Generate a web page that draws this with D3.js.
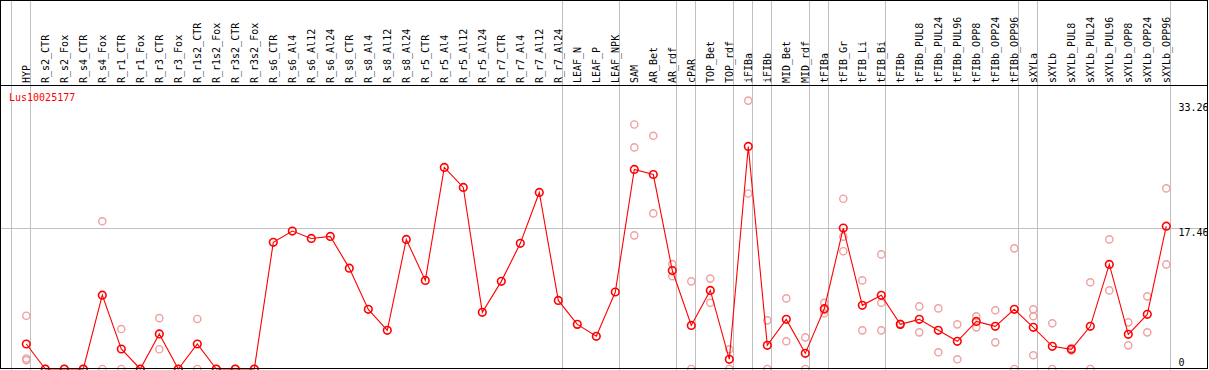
<!DOCTYPE html>
<html>
<head>
<meta charset="utf-8">
<script src="https://cdn.jsdelivr.net/npm/d3@7"></script>
<style>
  html, body { margin: 0; padding: 0; background: #fff; }
  svg { display: block; }
  text { font-family: "DejaVu Sans Mono", "Liberation Mono", monospace; font-size: 10px; }
</style>
</head>
<body>
<svg id="chart" width="1209" height="370"></svg>
<script>
const geneName = "Lus10025177";

const categories = [
  "HYP","R_s2_CTR","R_s2_Fox","R_s4_CTR","R_s4_Fox","R_r1_CTR","R_r1_Fox","R_r3_CTR","R_r3_Fox",
  "R_r1s2_CTR","R_r1s2_Fox","R_r3s2_CTR","R_r3s2_Fox","R_s6_CTR","R_s6_Al4","R_s6_Al12","R_s6_Al24",
  "R_s8_CTR","R_s8_Al4","R_s8_Al12","R_s8_Al24","R_r5_CTR","R_r5_Al4","R_r5_Al12","R_r5_Al24",
  "R_r7_CTR","R_r7_Al4","R_r7_Al12","R_r7_Al24","LEAF_N","LEAF_P","LEAF_NPK","SAM","AR_Bet","AR_rdf",
  "cPAR","TOP_Bet","TOP_rdf","iFIBa","iFIBb","MID_Bet","MID_rdf","tFIBa","tFIB_Gr","tFIB_Li","tFIB_Bi",
  "tFIBb","tFIBb_PUL8","tFIBb_PUL24","tFIBb_PUL96","tFIBb_OPP8","tFIBb_OPP24","tFIBb_OPP96",
  "sXYLa","sXYLb","sXYLb_PUL8","sXYLb_PUL24","sXYLb_PUL96","sXYLb_OPP8","sXYLb_OPP24","sXYLb_OPP96"
];

const means = [
  3.1, 0, 0, 0, 9.15, 2.48, 0, 4.35, 0,
  3.1, 0, 0, 0, 15.7, 17.09, 16.18, 16.43,
  12.5, 7.39, 4.79, 16.06, 10.98, 24.98, 22.5, 7.02,
  10.86, 15.57, 21.88, 8.5, 5.53, 4.05, 9.54, 24.73, 24.1, 12.2,
  5.4, 9.74, 1.2, 27.58, 2.93, 6.15, 1.94, 7.47, 17.46, 7.89, 9.13,
  5.53, 6.15, 4.79, 3.43, 5.9, 5.29, 7.39,
  5.16, 2.81, 2.44, 5.29, 12.96, 4.3, 6.77, 17.7
];

const replicates = [
  [6.6, 1.3, 1.1], [0, 0], [0, 0], [0, 0], [18.3, 0], [4.95, 0], [0, 0], [6.3, 2.45], [0, 0],
  [6.2, 0], [0, 0], [0, 0], [0, 0], [], [], [], [],
  [], [], [], [], [], [], [], [],
  [], [], [], [], [], [], [], [30.3, 27.46, 16.56], [28.9, 19.28], [13.0, 11.5],
  [10.86, 0], [11.2, 8.2], [2.44, 0], [33.26, 21.75], [6.03, 0], [8.75, 3.43], [3.92, 0], [8.2, 7.3, 6.9],
  [21.1, 16.4, 14.6], [10.98, 4.79], [14.2, 8.2, 4.79],
  [5.6, 5.5], [7.76, 4.54], [7.51, 2.07], [5.53, 1.2], [6.53, 5.16], [7.27, 3.3], [14.95, 0],
  [7.39, 6.53, 1.7], [5.66, 0], [2.6, 2.3], [10.74, 0], [16.06, 9.74], [5.78, 2.93], [9.0, 4.54], [22.38, 12.96]
];

// group separators: drawn after these categories
const groupEnds = ["HYP","R_r7_Al24","LEAF_NPK","AR_rdf","cPAR","TOP_rdf","iFIBa","iFIBb","MID_rdf",
  "tFIBa","tFIB_Bi","tFIBb_OPP96","sXYLa","sXYLb_OPP96"];

const yTicks = [0, 17.46, 33.26];
const yTickLabels = ["0", "17.46", "33.26"];

const W = 1209, H = 370;
const svg = d3.select("#chart");

const x = d3.scalePoint().domain(categories).range([26.3, 1166.3]);
const y = d3.scaleLinear().domain([0, 33.26]).range([369, 100.6]);

const crisp = v => Math.round(v) + 0.5;
const grid = "#c0c0c0";

// vertical group gridlines (left edge + after each group)
const sep = [x(categories[0]) - x.step()].concat(groupEnds.map(c => x(c)));
svg.append("g").selectAll("line").data(sep).join("line")
  .attr("x1", d => crisp(d + 4 - 0.6)).attr("x2", d => crisp(d + 4 - 0.6))
  .attr("y1", 0).attr("y2", H)
  .attr("stroke", grid).attr("stroke-width", 1);

// horizontal gridline at middle tick
svg.append("line")
  .attr("x1", 0).attr("x2", 1207)
  .attr("y1", crisp(y(yTicks[1]) - 0.5)).attr("y2", crisp(y(yTicks[1]) - 0.5))
  .attr("stroke", grid).attr("stroke-width", 1);

// category labels (vertical)
svg.append("g").selectAll("text").data(categories).join("text")
  .attr("transform", d => `translate(${x(d) + 3.6},83) rotate(-90)`)
  .attr("text-anchor", "start")
  .attr("fill", "#000")
  .text(d => d);

// gene name
svg.append("text").attr("x", 9).attr("y", 101).attr("fill", "#ff0000").text(geneName);

// replicate points
const repPts = [];
replicates.forEach((arr, i) => arr.forEach(v => repPts.push({c: categories[i], v})));
svg.append("g").selectAll("circle").data(repPts).join("circle")
  .attr("cx", d => x(d.c)).attr("cy", d => y(d.v)).attr("r", 3.6)
  .attr("fill", "none").attr("stroke", "#f0a0a0").attr("stroke-width", 1.4);

// mean line
const pts = categories.map((c, i) => ({c, v: means[i]}));
svg.append("path").datum(pts)
  .attr("d", d3.line().x(d => x(d.c)).y(d => y(d.v)))
  .attr("fill", "none").attr("stroke", "#ff0000").attr("stroke-width", 1.1);

svg.append("g").selectAll("circle").data(pts).join("circle")
  .attr("cx", d => x(d.c)).attr("cy", d => y(d.v)).attr("r", 3.8)
  .attr("fill", "none").attr("stroke", "#ff0000").attr("stroke-width", 1.6);

// right axis labels
const lblY = [366, 236, 110.5];
svg.append("g").selectAll("text").data(yTickLabels).join("text")
  .attr("x", 1178.5).attr("y", (d, i) => lblY[i])
  .attr("fill", "#000").text(d => d);

// frame
const frame = svg.append("g").attr("stroke", "#000").attr("stroke-width", 1);
frame.append("line").attr("x1", 0).attr("x2", 1208).attr("y1", 0.5).attr("y2", 0.5);
frame.append("line").attr("x1", 0.5).attr("x2", 0.5).attr("y1", 0).attr("y2", 369);
frame.append("line").attr("x1", 1207.5).attr("x2", 1207.5).attr("y1", 0).attr("y2", 369);
frame.append("line").attr("x1", 0).attr("x2", 1208).attr("y1", 368.5).attr("y2", 368.5);
frame.append("line").attr("x1", 0).attr("x2", 1208).attr("y1", 85.5).attr("y2", 85.5);
svg.append("rect").attr("x", 1208).attr("y", 0).attr("width", 1).attr("height", H).attr("fill", "#fff");
</script>
</body>
</html>
